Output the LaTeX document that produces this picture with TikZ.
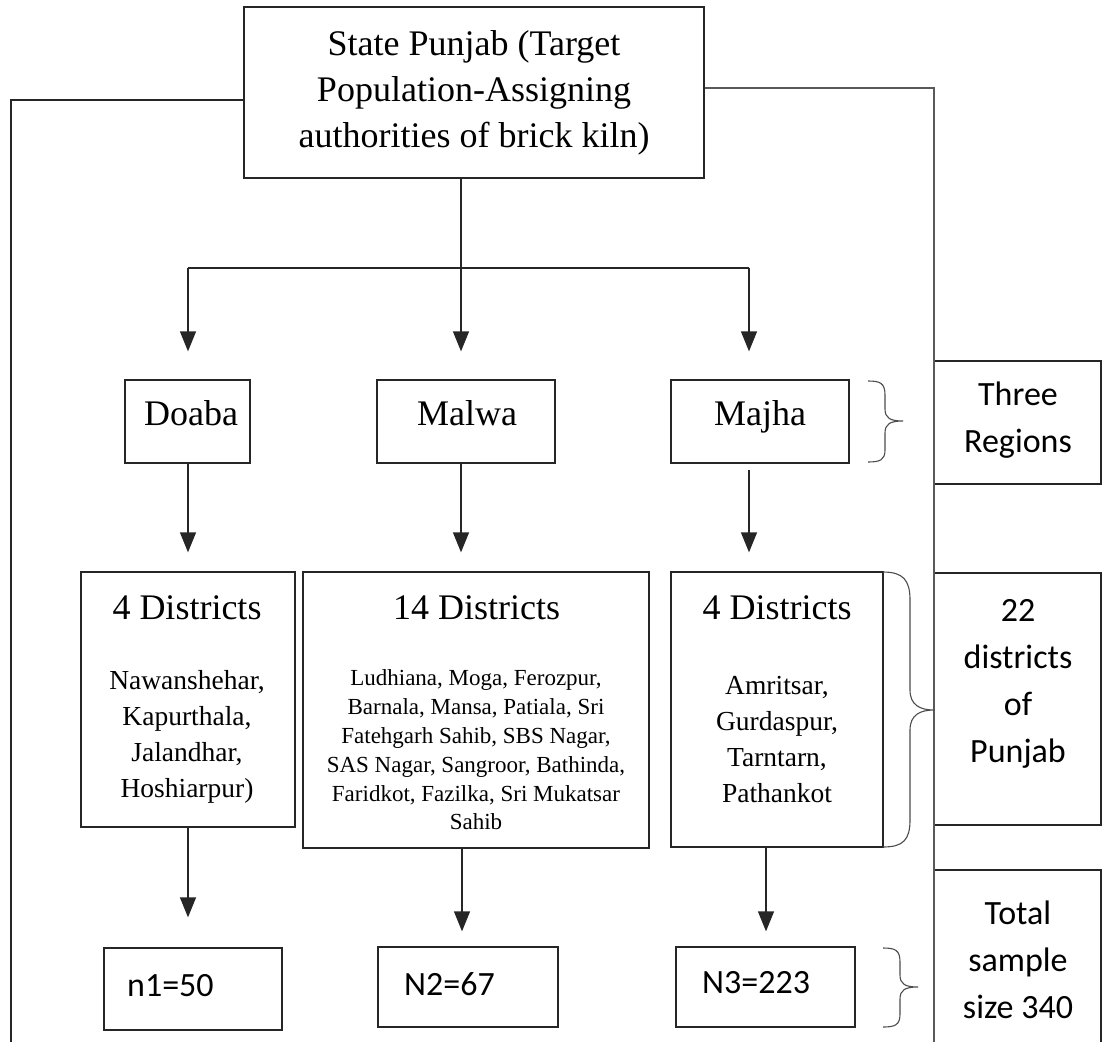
\documentclass[tikz,border=0pt]{standalone}
\usepackage{fontspec}
\setmainfont{Liberation Serif}
\newfontfamily\calfont{Carlito}
\usetikzlibrary{arrows.meta}
\begin{document}
\begin{tikzpicture}[x=1pt,y=-1pt,
  box/.style={draw=black!85, line width=1.3pt, rectangle, inner sep=0pt},
  conn/.style={draw=black!85, line width=1.3pt},
  arr/.style={conn, -{Triangle[width=16pt,length=20pt]}},
  brace/.style={draw=black!70, line width=1.1pt},
  txt/.style={inner sep=0pt, align=center},
  bigT/.style={txt, font=\fontsize{36}{46}\selectfont},
  midT/.style={txt, font=\fontsize{27.5}{36}\selectfont},
  smlT/.style={txt, font=\fontsize{23}{28.8}\selectfont},
  calT/.style={txt, font=\calfont\fontsize{34}{47}\selectfont}
]
\useasboundingbox (0,0) rectangle (1102,1041);

% boxes
\node[box, minimum width=460pt, minimum height=171pt] (top) at (474,92.5) {};
\node[box, minimum width=125pt, minimum height=83pt] (doaba) at (187.5,421.5) {};
\node[box, minimum width=178pt, minimum height=83pt] (malwa) at (466,421.5) {};
\node[box, minimum width=178pt, minimum height=83pt] (majha) at (760,421.5) {};
\node[box, minimum width=214pt, minimum height=255pt] (doabaD) at (188,699.5) {};
\node[box, minimum width=346pt, minimum height=276pt] (malwaD) at (476,710) {};
\node[box, minimum width=212pt, minimum height=275pt] (majhaD) at (777,709.5) {};
\node[box, minimum width=178pt, minimum height=82pt] (n1) at (193,989) {};
\node[box, minimum width=180pt, minimum height=80pt] (n2) at (468,987) {};
\node[box, minimum width=179pt, minimum height=80pt] (n3) at (765.5,987) {};
\node[box, minimum width=167pt, minimum height=123pt] (threeR) at (1017.5,422.5) {};
\node[box, minimum width=167pt, minimum height=252pt] (dist22) at (1017.5,699) {};
\node[box, minimum width=167pt, minimum height=190pt] (total) at (1017.5,965) {};

% texts
\node[bigT] (topt) at (474,93) {State Punjab (Target\\Population-Assigning\\authorities of brick kiln)};
\node[bigT, anchor=base] (doabat) at (191,425) {Doaba};
\node[bigT, anchor=base] (malwat) at (467,425) {Malwa};
\node[bigT, anchor=base] (majhat) at (760,425) {Majha};
\node[bigT, anchor=base] (doabaDh) at (187,619) {4 Districts};
\node[bigT, anchor=base] (malwaDh) at (476.5,619) {14 Districts};
\node[bigT, anchor=base] (majhaDh) at (777,619) {4 Districts};
\node[midT] (doabaDl) at (187,737) {Nawanshehar,\\Kapurthala,\\Jalandhar,\\Hoshiarpur)};
\node[smlT] (malwaDl) at (476,750) {Ludhiana, Moga, Ferozpur,\\Barnala, Mansa, Patiala, Sri\\Fatehgarh Sahib, SBS Nagar,\\SAS Nagar, Sangroor, Bathinda,\\Faridkot, Fazilka, Sri Mukatsar\\Sahib};
\node[midT] (majhaDl) at (777,740) {Amritsar,\\Gurdaspur,\\Tarntarn,\\Pathankot};
\node[calT] (threeRt) at (1018,420) {Three\\Regions};
\node[calT] (dist22t) at (1018,684) {22\\districts\\of\\Punjab};
\node[calT] (totalt) at (1018,960) {Total\\sample\\size 340};
\node[calT, anchor=west] (n1t) at (127,986) {n1=50};
\node[calT, anchor=west] (n2t) at (404,984) {N2=67};
\node[calT, anchor=west] (n3t) at (702,983) {N3=223};

% coordinates
\coordinate (L1) at (11,100);
\coordinate (L2) at (11,1050);
\coordinate (R1) at (934,88);
\coordinate (R2) at (934,1050);
\coordinate (hl) at (188,268);
\coordinate (hm) at (461,268);
\coordinate (hr) at (749,268);
\coordinate (bl) at (188,0);
\coordinate (bm) at (462,0);
\coordinate (br) at (766,0);

% side lines
\draw[conn] (top.west |- L1) -- (L1) -- (L2);
\draw[conn, draw=black!65] (top.east |- R1) -- (R1) -- (R2);

% distribution
\draw[conn] (top.south -| hm) -- (hm);
\draw[conn] (hl) -- (hr);
\draw[arr, shorten >=28pt] (hl) -- (doaba.north -| hl);
\draw[arr, shorten >=28pt] (hm) -- (malwa.north -| hm);
\draw[arr, shorten >=28pt] (hr) -- (majha.north -| hr);

\draw[arr, shorten >=19pt] (doaba.south -| hl) -- (doabaD.north -| hl);
\draw[arr, shorten >=19pt] (malwa.south -| hm) -- (malwaD.north -| hm);
\draw[arr, shorten >=19pt, shorten <=6pt] (majha.south -| hr) -- (majhaD.north -| hr);

\draw[arr, shorten >=30pt] (doabaD.south -| bl) -- (n1.north -| bl);
\draw[arr, shorten >=15pt] (malwaD.south -| bm) -- (n2.north -| bm);
\draw[arr, shorten >=15pt] (majhaD.south -| br) -- (n3.north -| br);

% braces
\draw[brace] (868,381) .. controls (880,381) and (885,383) .. (885,395) -- (885,409)
  .. controls (885,418) and (890,421) .. (903,421)
  .. controls (890,421) and (885,424) .. (885,433) -- (885,450)
  .. controls (885,460) and (880,462) .. (868,462);
\draw[brace] (883,572) .. controls (903,572) and (910,580) .. (910,600) -- (910,690)
  .. controls (910,705) and (920,710) .. (934,710)
  .. controls (920,710) and (910,715) .. (910,730) -- (910,820)
  .. controls (910,840) and (903,847) .. (883,847);
\draw[brace] (883,948) .. controls (895,948) and (900,950) .. (900,962) -- (900,975)
  .. controls (900,984) and (905,987) .. (918,987)
  .. controls (905,987) and (900,990) .. (900,999) -- (900,1014)
  .. controls (900,1025) and (895,1027) .. (883,1027);
\end{tikzpicture}
\end{document}
